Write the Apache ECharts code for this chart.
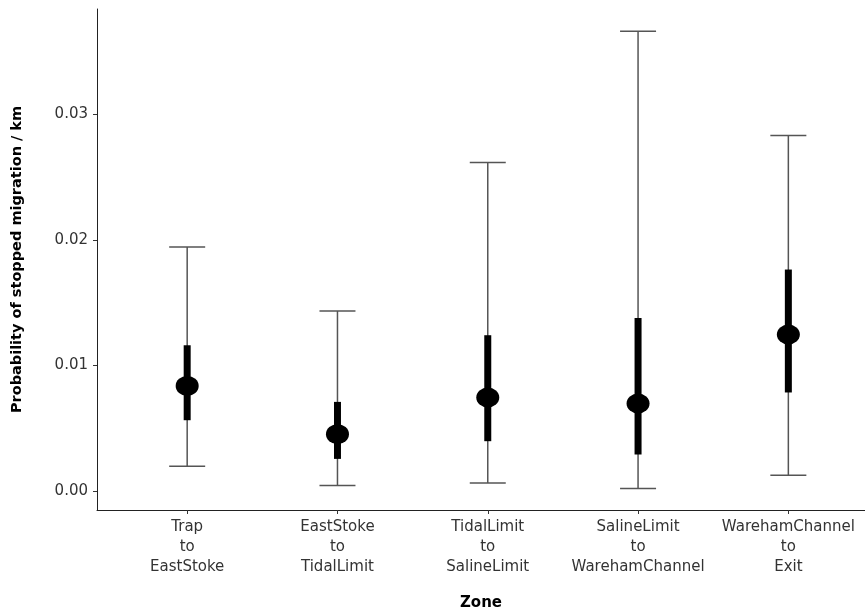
<!DOCTYPE html>
<html>
<head>
<meta charset="utf-8">
<script src="https://cdn.jsdelivr.net/npm/echarts@6/dist/echarts.min.js"></script>
<style>html,body{margin:0;padding:0;background:#fff;}#chart{width:865px;height:613px;}</style>
</head>
<body>
<div id="chart"></div>
<script>
const categories = ['Trap\nto\nEastStoke', 'EastStoke\nto\nTidalLimit', 'TidalLimit\nto\nSalineLimit', 'SalineLimit\nto\nWarehamChannel', 'WarehamChannel\nto\nExit'];
const estimate  = [0.00838, 0.00454, 0.00746, 0.00698, 0.01248];
const innerLow  = [0.00565, 0.00257, 0.00398, 0.00292, 0.00786];
const innerHigh = [0.01162, 0.00711, 0.01242, 0.01380, 0.01765];
const outerLow  = [0.00199, 0.00045, 0.00066, 0.00021, 0.00127];
const outerHigh = [0.01945, 0.01435, 0.02617, 0.03662, 0.02832];
const yTicks = [0, 0.01, 0.02, 0.03];
const xTicks = [1, 2, 3, 4, 5];

const chart = echarts.init(document.getElementById('chart'));

function rangeItem(capHalf, width, color) {
  return function (params, api) {
    const x = api.value(0);
    const p1 = api.coord([x, api.value(1)]);
    const p2 = api.coord([x, api.value(2)]);
    const children = [{
      type: 'line',
      shape: { x1: p1[0], y1: p1[1], x2: p2[0], y2: p2[1] },
      style: { stroke: color, lineWidth: width, lineCap: 'butt' }
    }];
    if (capHalf > 0) {
      children.push({ type: 'line', shape: { x1: p1[0] - capHalf, y1: p1[1], x2: p1[0] + capHalf, y2: p1[1] }, style: { stroke: color, lineWidth: width } });
      children.push({ type: 'line', shape: { x1: p2[0] - capHalf, y1: p2[1], x2: p2[0] + capHalf, y2: p2[1] }, style: { stroke: color, lineWidth: width } });
    }
    return { type: 'group', children: children };
  };
}

const option = {
  backgroundColor: '#fff',
  animation: false,
  grid: { left: 97, right: 0, top: 9, bottom: 103, containLabel: false, outerBoundsMode: 'none' },
  xAxis: {
    type: 'value', min: 0.4, max: 5.51,
    name: 'Zone', nameLocation: 'middle', nameGap: 86,
    nameTextStyle: { fontFamily: 'DejaVu Sans', fontSize: 15, fontWeight: 'bold', color: '#000' },
    axisLine: { show: true, onZero: false, lineStyle: { color: '#222', width: 1 } },
    axisTick: { show: true, length: 4, customValues: xTicks, lineStyle: { color: '#333' } },
    axisLabel: {
      customValues: xTicks, margin: 7, lineHeight: 20,
      fontFamily: 'DejaVu Sans', fontSize: 15, color: '#333',
      formatter: function (v) { return categories[Math.round(v) - 1]; }
    },
    splitLine: { show: false }
  },
  yAxis: {
    type: 'value', min: -0.0015, max: 0.0384,
    name: 'Probability of stopped migration / km', nameLocation: 'middle', nameGap: 72,
    nameTextStyle: { fontFamily: 'DejaVu Sans', fontSize: 14.5, fontWeight: 'bold', color: '#000' },
    axisLine: { show: true, onZero: false, lineStyle: { color: '#222', width: 1 } },
    axisTick: { show: true, length: 4, customValues: yTicks, lineStyle: { color: '#333' } },
    axisLabel: {
      customValues: yTicks, margin: 9,
      fontFamily: 'DejaVu Sans', fontSize: 15, color: '#333',
      formatter: function (v) { return v.toFixed(2); }
    },
    splitLine: { show: false }
  },
  series: [
    {
      type: 'custom', renderItem: rangeItem(18, 1.5, '#555'),
      encode: { x: 0, y: [1, 2] },
      data: xTicks.map((x, i) => [x, outerLow[i], outerHigh[i]]), z: 1
    },
    {
      type: 'custom', renderItem: rangeItem(0, 7, '#000'),
      encode: { x: 0, y: [1, 2] },
      data: xTicks.map((x, i) => [x, innerLow[i], innerHigh[i]]), z: 2
    },
    {
      type: 'scatter', symbol: 'circle', symbolSize: [23, 20],
      itemStyle: { color: '#000', opacity: 1 },
      emphasis: { disabled: true },
      data: xTicks.map((x, i) => [x, estimate[i]]), z: 3
    }
  ]
};
chart.setOption(option);
</script>
</body>
</html>
